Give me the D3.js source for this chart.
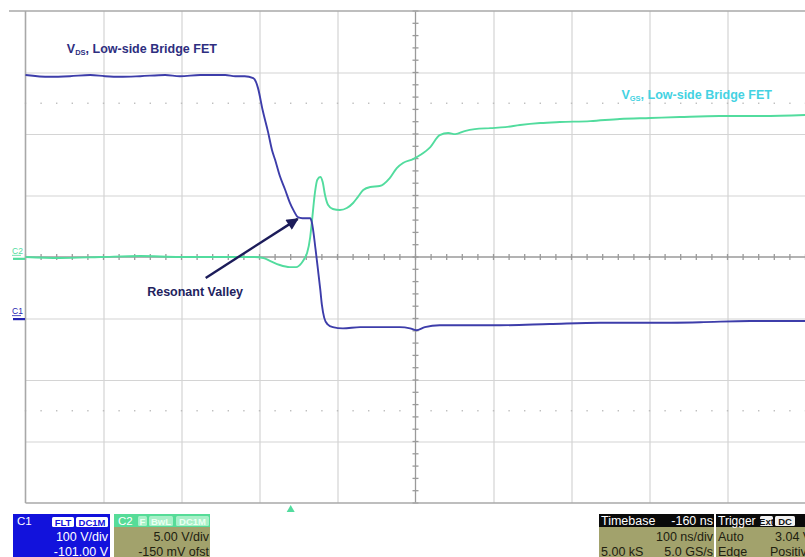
<!DOCTYPE html>
<html><head><meta charset="utf-8">
<script src="https://cdn.jsdelivr.net/npm/d3@7"></script>
<style>
html,body{margin:0;padding:0;background:#fff;}
svg{display:block;font-family:"Liberation Sans",Arial,sans-serif;}
</style></head>
<body><svg id="c" width="805" height="557"></svg>
<script>
// ---- data (time in ns relative to trigger, volts) ----
const timeDomain = [-340, 660];          // 100 ns/div, 10 divisions
const vdsVoltsPerDiv = 100, vdsOffset = -101;
const vgsVoltsPerDiv = 5,   vgsOffset = -0.15;
const vdsPoints = [
 [-340,397],[-309,394],[-283,395],[-257,397],[-238,395],[-219,394],[-193,395],[-161,397],
 [-142,395],[-116,397],[-84,397],[-71,395],[-59,395],[-48,392],[-42,376],[-36,340],[-29,304],
 [-24,275],[-20,259],[-14,233],[-7,210],[-1,189],[4,176],[9,166],[15,164],[25,164],[27,158],
 [32,112],[35,80],[38,47],[40,23],[43,2],[47,-8],[54,-13],[67,-15],[89,-13],[114,-13],
 [140,-13],[153,-15],[161,-18],[172,-13],[191,-10],[217,-10],[268,-10],[332,-8],[397,-6],
 [461,-6],[525,-5],[589,-3],[660,-3]
];
const vgsPoints = [
 [-340,0.15],[-296,0.07],[-244,0.15],[-193,0.23],[-142,0.15],[-91,0.15],[-46,0.15],[-35,0.07],
 [-26,-0.18],[-14,-0.5],[-1,-0.67],[7,-0.67],[14,-0.34],[18,0.07],[21,0.47],[25,1.77],[27,2.91],
 [31,5.35],[34,6.41],[38,6.65],[41,6.24],[44,5.19],[48,4.37],[54,4.05],[63,3.97],[72,4.13],
 [80,4.54],[86,5.02],[93,5.59],[102,5.84],[114,5.92],[127,6.57],[136,7.38],[144,7.79],
 [157,8.11],[166,8.44],[179,9.09],[191,10.06],[202,10.23],[211,10.14],[223,10.39],[236,10.55],
 [256,10.63],[275,10.71],[294,10.88],[320,11.04],[345,11.12],[384,11.2],[422,11.37],[461,11.45],
 [499,11.53],[550,11.61],[602,11.61],[660,11.69]
];
const vdsLabel = {t:-287, v:432, main:"V", sub:"DS", rest:", Low-side Bridge FET"};
const vgsLabel = {t:424, v:13.0, main:"V", sub:"GS", rest:", Low-side Bridge FET"};
const valleyLabel = {t:-184, v:37, text:"Resonant Valley"};
const valleyArrow = {from:[-109,67], to:[9,163]};
const c1Panel = {name:"C1", tags:["FLT","DC1M"], lines:["100 V/div","-101.00 V"]};
const c2Panel = {name:"C2", tags:["F","BwL","DC1M"], lines:["5.00 V/div","-150 mV ofst"]};
const tbPanel = {title:"Timebase", val:"-160 ns", r1:["","100 ns/div"], r2:["5.00 kS","5.0 GS/s"]};
const trPanel = {title:"Trigger", tags:["Ext","DC"], r1:["Auto","3.04 V"], r2:["Edge","Positive"]};

// ---- layout ----
const L = 25.5, R = 805.5, T = 11, B = 503;
const svg = d3.select("#c");
const x = d3.scaleLinear().domain(timeDomain).range([L, R]);
const yDiv = d3.scaleLinear().domain([-4, 4]).range([B, T]);
const xDiv = d3.scaleLinear().domain([0, 10]).range([L, R]);
const y1 = d3.scaleLinear().domain([-4*vdsVoltsPerDiv - vdsOffset, 4*vdsVoltsPerDiv - vdsOffset]).range([B, T]);
const y2 = d3.scaleLinear().domain([-4*vgsVoltsPerDiv - vgsOffset, 4*vgsVoltsPerDiv - vgsOffset]).range([B, T]);

// grid
const gridCol = "#d4d4d4";
svg.append("g").attr("transform", `translate(0,${T})`)
  .call(d3.axisBottom(xDiv).tickValues([1,2,3,4,6,7,8,9]).tickSize(B - T).tickFormat(""))
  .call(g => { g.select(".domain").remove(); g.selectAll("line").attr("stroke", gridCol).attr("stroke-width", 1.2); });
svg.append("g").attr("transform", `translate(${L},0)`)
  .call(d3.axisRight(yDiv).tickValues([-3,-2,-1,1,2,3]).tickSize(R - L).tickFormat(""))
  .call(g => { g.select(".domain").remove(); g.selectAll("line").attr("stroke", gridCol).attr("stroke-width", 1.2); });

// dotted rows at +-2.5 div
[-2.5, 2.5].forEach(d => {
  const dots = d3.range(0, 10.01, 0.2).filter(v => Math.abs(v - 5) > 0.01);
  svg.append("g").selectAll("rect").data(dots).join("rect")
    .attr("x", v => xDiv(v) - 0.7).attr("y", yDiv(d) - 0.7).attr("width", 1.4).attr("height", 1.4)
    .attr("fill", "#bcbcbc");
});

// center axes with minor ticks
const axCol = "#9a9a9a";
svg.append("line").attr("x1", L).attr("x2", R).attr("y1", yDiv(0)).attr("y2", yDiv(0)).attr("stroke", axCol).attr("stroke-width", 1.3);
svg.append("line").attr("x1", xDiv(5)).attr("x2", xDiv(5)).attr("y1", T).attr("y2", B).attr("stroke", axCol).attr("stroke-width", 1.3);
svg.append("g").selectAll("line").data(d3.range(0, 10.01, 0.2)).join("line")
  .attr("x1", v => xDiv(v)).attr("x2", v => xDiv(v)).attr("y1", yDiv(0) - 3).attr("y2", yDiv(0) + 3)
  .attr("stroke", axCol).attr("stroke-width", 1.3);
svg.append("g").selectAll("line").data(d3.range(-4, 4.01, 0.2)).join("line")
  .attr("x1", xDiv(5) - 3).attr("x2", xDiv(5) + 3).attr("y1", v => yDiv(v)).attr("y2", v => yDiv(v))
  .attr("stroke", axCol).attr("stroke-width", 1.3);

// borders
const bCol = "#a8a8a8";
svg.append("line").attr("x1", 9).attr("x2", 805).attr("y1", T).attr("y2", T).attr("stroke", bCol).attr("stroke-width", 1.6);
svg.append("line").attr("x1", L).attr("x2", L).attr("y1", T).attr("y2", B).attr("stroke", bCol).attr("stroke-width", 1.6);
svg.append("line").attr("x1", L).attr("x2", 805).attr("y1", B).attr("y2", B).attr("stroke", bCol).attr("stroke-width", 1.6);

// traces
const vgsColor = "#52dc9e", vdsColor = "#3d3daa";
svg.append("path").datum(vgsPoints)
  .attr("d", d3.line().x(d => x(d[0])).y(d => y2(d[1])).curve(d3.curveMonotoneX))
  .attr("fill", "none").attr("stroke", vgsColor).attr("stroke-width", 1.9);
svg.append("path").datum(vdsPoints)
  .attr("d", d3.line().x(d => x(d[0])).y(d => y1(d[1])).curve(d3.curveMonotoneX))
  .attr("fill", "none").attr("stroke", vdsColor).attr("stroke-width", 1.9);

// channel markers on the left
function marker(name, yPos, col) {
  svg.append("text").attr("x", 12).attr("y", yPos - 5).attr("font-size", 8.5).attr("fill", col).text(name);
  svg.append("line").attr("x1", 12).attr("x2", 21).attr("y1", yPos - 3.5).attr("y2", yPos - 3.5).attr("stroke", col).attr("stroke-width", 0.8);
  svg.append("line").attr("x1", 13).attr("x2", 25).attr("y1", yPos).attr("y2", yPos).attr("stroke", col).attr("stroke-width", 2.2);
}
marker("C2", y2(0), vgsColor);
marker("C1", y1(0), "#2424b0");

// labels
function subLabel(lab, yScale, col) {
  const t = svg.append("text").attr("x", x(lab.t)).attr("y", yScale(lab.v))
    .attr("font-size", 12.5).attr("font-weight", "bold").attr("fill", col);
  t.append("tspan").text(lab.main);
  t.append("tspan").attr("font-size", 7.5).attr("dy", 2).text(lab.sub);
  t.append("tspan").attr("dy", -2).text(lab.rest);
}
subLabel(vdsLabel, y1, "#2e2e80");
subLabel(vgsLabel, y2, "#44d2e2");
svg.append("text").attr("x", x(valleyLabel.t)).attr("y", y1(valleyLabel.v))
  .attr("font-size", 12.5).attr("font-weight", "bold").attr("fill", "#22225e").text(valleyLabel.text);

// arrow
svg.append("defs").append("marker").attr("id", "ah").attr("viewBox", "0 0 10 10")
  .attr("refX", 9).attr("refY", 5).attr("markerWidth", 6).attr("markerHeight", 5)
  .attr("markerUnits", "strokeWidth").attr("orient", "auto")
  .append("path").attr("d", "M0,0 L10,5 L0,10 z").attr("fill", "#1c1c5a");
svg.append("line")
  .attr("x1", x(valleyArrow.from[0])).attr("y1", y1(valleyArrow.from[1]))
  .attr("x2", x(valleyArrow.to[0])).attr("y2", y1(valleyArrow.to[1]))
  .attr("stroke", "#1c1c5a").attr("stroke-width", 2.4).attr("marker-end", "url(#ah)");

// trigger position marker
const tx = x(0);
svg.append("path").attr("d", `M${tx - 4},${B + 9} L${tx + 4},${B + 9} L${tx},${B + 2} Z`).attr("fill", vgsColor);

// ---- bottom panels ----
const olive = "#a2a26c";
const PT = 514, PH = 13;
function tag(xr, yTop, w, label, fill, col) {
  svg.append("rect").attr("x", xr).attr("y", yTop).attr("width", w).attr("height", 10).attr("rx", 1.5).attr("fill", fill);
  svg.append("text").attr("x", xr + w / 2).attr("y", yTop + 8.6).attr("text-anchor", "middle")
    .attr("font-size", 9.5).attr("font-weight", "bold").attr("fill", col).text(label);
}
// C1
svg.append("rect").attr("x", 13).attr("y", PT).attr("width", 97).attr("height", 557 - PT).attr("fill", "#1212dc");
svg.append("text").attr("x", 17).attr("y", PT + 10.5).attr("font-size", 11.5).attr("fill", "#fff").text(c1Panel.name);
tag(52, PT + 3, 22, c1Panel.tags[0], "#fff", "#1212dc");
tag(76, PT + 3, 32, c1Panel.tags[1], "#fff", "#1212dc");
svg.append("text").attr("x", 108).attr("y", PT + 27).attr("text-anchor", "end").attr("font-size", 12.5).attr("fill", "#fff").text(c1Panel.lines[0]);
svg.append("text").attr("x", 108).attr("y", PT + 41.5).attr("text-anchor", "end").attr("font-size", 12.5).attr("fill", "#fff").text(c1Panel.lines[1]);
// C2
svg.append("rect").attr("x", 114).attr("y", PT).attr("width", 96).attr("height", 557 - PT).attr("fill", olive);
svg.append("rect").attr("x", 114).attr("y", PT).attr("width", 96).attr("height", PH).attr("fill", "#56dc98");
svg.append("text").attr("x", 118).attr("y", PT + 10.5).attr("font-size", 11.5).attr("fill", "#fff").text(c2Panel.name);
tag(138, PT + 2, 9, c2Panel.tags[0], "#a8f0c8", "#eafff2");
tag(149, PT + 2, 24, c2Panel.tags[1], "#a8f0c8", "#eafff2");
tag(176, PT + 2, 33, c2Panel.tags[2], "#a8f0c8", "#eafff2");
svg.append("text").attr("x", 209).attr("y", PT + 27).attr("text-anchor", "end").attr("font-size", 12.5).attr("fill", "#202010").text(c2Panel.lines[0]);
svg.append("text").attr("x", 209).attr("y", PT + 41.5).attr("text-anchor", "end").attr("font-size", 12.5).attr("fill", "#202010").text(c2Panel.lines[1]);
// Timebase
svg.append("rect").attr("x", 599).attr("y", PT).attr("width", 115).attr("height", 557 - PT).attr("fill", olive);
svg.append("rect").attr("x", 599).attr("y", PT).attr("width", 115).attr("height", PH).attr("fill", "#0a0a0a");
svg.append("text").attr("x", 601).attr("y", PT + 11).attr("font-size", 12.5).attr("fill", "#fff").text(tbPanel.title);
svg.append("text").attr("x", 713).attr("y", PT + 11).attr("text-anchor", "end").attr("font-size", 12.5).attr("fill", "#fff").text(tbPanel.val);
svg.append("text").attr("x", 713).attr("y", PT + 27).attr("text-anchor", "end").attr("font-size", 12.5).attr("fill", "#202010").text(tbPanel.r1[1]);
svg.append("text").attr("x", 601).attr("y", PT + 41.5).attr("font-size", 12.5).attr("fill", "#202010").text(tbPanel.r2[0]);
svg.append("text").attr("x", 713).attr("y", PT + 41.5).attr("text-anchor", "end").attr("font-size", 12.5).attr("fill", "#202010").text(tbPanel.r2[1]);
// Trigger (cut off by the right edge, as in the original screen capture)
svg.append("rect").attr("x", 716).attr("y", PT).attr("width", 100).attr("height", 557 - PT).attr("fill", olive);
svg.append("rect").attr("x", 716).attr("y", PT).attr("width", 100).attr("height", PH).attr("fill", "#0a0a0a");
svg.append("text").attr("x", 718).attr("y", PT + 11).attr("font-size", 12).attr("fill", "#fff").text(trPanel.title);
tag(760, PT + 2, 13, trPanel.tags[0], "#f2f2f2", "#111");
tag(775, PT + 2, 20, trPanel.tags[1], "#f2f2f2", "#111");
svg.append("text").attr("x", 718).attr("y", PT + 27).attr("font-size", 12.5).attr("fill", "#202010").text(trPanel.r1[0]);
svg.append("text").attr("x", 775).attr("y", PT + 27).attr("font-size", 12.5).attr("fill", "#202010").text(trPanel.r1[1]);
svg.append("text").attr("x", 718).attr("y", PT + 41.5).attr("font-size", 12.5).attr("fill", "#202010").text(trPanel.r2[0]);
svg.append("text").attr("x", 770).attr("y", PT + 41.5).attr("font-size", 12.5).attr("fill", "#202010").text(trPanel.r2[1]);
</script></body></html>
